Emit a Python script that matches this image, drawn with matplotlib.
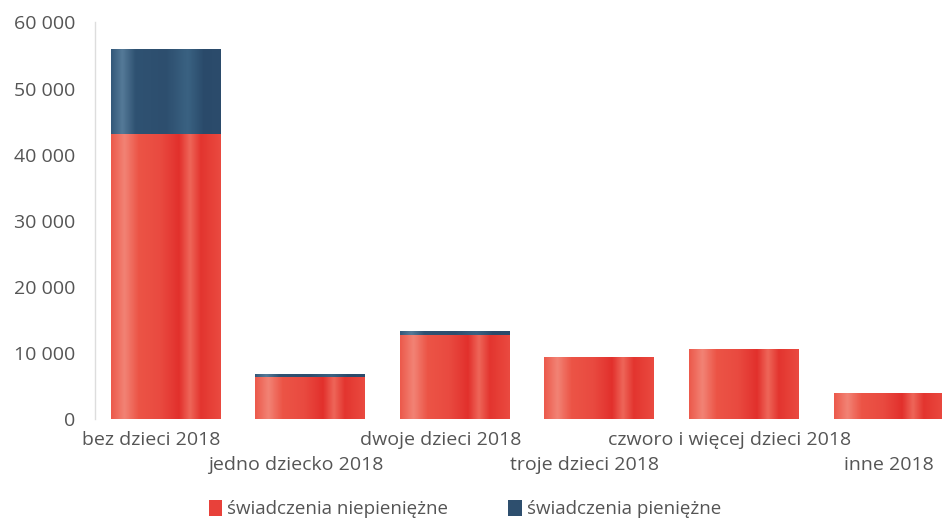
import matplotlib
matplotlib.use("Agg")
import matplotlib.pyplot as plt
import numpy as np
from matplotlib.colors import LinearSegmentedColormap
from matplotlib.transforms import blended_transform_factory, offset_copy
from matplotlib.patches import Patch

categories = ["bez dzieci 2018", "jedno dziecko 2018", "dwoje dzieci 2018",
              "troje dzieci 2018", "czworo i więcej dzieci 2018", "inne 2018"]
niepieniezne = [43200, 6350, 12700, 9400, 10600, 3950]
pieniezne = [12800, 450, 600, 0, 0, 0]
series_labels = ["świadczenia niepieniężne", "świadczenia pieniężne"]
yticks = [0, 10000, 20000, 30000, 40000, 50000, 60000]
ytick_labels = ["0", "10 000", "20 000", "30 000", "40 000", "50 000", "60 000"]

plt.rcParams['font.family'] = ['Open Sans', 'DejaVu Sans']
text_color = "#555555"

fig = plt.figure(figsize=(9.42, 5.23), dpi=100)
ax = fig.add_axes([0.1008, 0.1989, 0.8992, 0.957 - 0.1989])

red_cmap = LinearSegmentedColormap.from_list("r", [
    (0.0, "#ec5a4c"), (0.12, "#f28375"), (0.25, "#ec5446"), (0.45, "#e94a40"),
    (0.62, "#e2302c"), (0.72, "#ee6659"), (0.82, "#e3352f"), (1.0, "#ea4a40")])
blue_cmap = LinearSegmentedColormap.from_list("b", [
    (0.0, "#34597a"), (0.1, "#557a98"), (0.22, "#2f5272"), (0.5, "#2d4e6e"),
    (0.7, "#3a6282"), (0.85, "#2a4a6a"), (1.0, "#2c4c6c")])
grad = np.linspace(0, 1, 200).reshape(1, -1)

x = np.arange(len(categories))
width = 0.76
b1 = ax.bar(x, niepieniezne, width, color="#e8413a", label=series_labels[0], zorder=2)
b2 = ax.bar(x, pieniezne, width, bottom=niepieniezne, color="#2e4f6e",
            label=series_labels[1], zorder=2)

for bars, cmap in ((b1, red_cmap), (b2, blue_cmap)):
    for p in bars:
        if p.get_height() <= 0:
            continue
        x0, y0 = p.get_x(), p.get_y()
        im = ax.imshow(grad, cmap=cmap, aspect='auto', interpolation='bilinear',
                       extent=(x0, x0 + p.get_width(), y0, y0 + p.get_height()), zorder=3)
        im.set_clip_path(p)

ax.set_xlim(-0.49, 5.37)
ax.set_ylim(0, 60000)
ax.set_yticks(yticks)
ax.set_yticklabels(ytick_labels)
ax.tick_params(axis='y', length=0, pad=14, labelsize=14, labelcolor=text_color)
ax.set_xticks([])
for s in ("top", "right", "bottom"):
    ax.spines[s].set_visible(False)
ax.spines["left"].set_color("#dddddd")
ax.spines["left"].set_linewidth(1)

trans = blended_transform_factory(ax.transData, ax.transAxes)
for i, lab in enumerate(categories):
    dy = -21 if i % 2 == 0 else -46
    tr = offset_copy(trans, fig=fig, x=0, y=dy, units='dots')
    xi = x[i] - 0.1 if i < len(categories) - 1 else x[i]
    ax.text(xi, 0, lab, transform=tr, ha='center', va='center',
            fontsize=14, color=text_color, clip_on=False)

handles = [Patch(facecolor="#e8413a"), Patch(facecolor="#2e4f6e")]
leg = fig.legend(handles, series_labels, loc='center', bbox_to_anchor=(465 / 942, 1 - 509 / 523),
                 ncol=2, frameon=False, fontsize=13.5, handlelength=0.7, handleheight=1.0,
                 handletextpad=0.3, columnspacing=3.2)
for t in leg.get_texts():
    t.set_color(text_color)

fig.savefig("out.png", dpi=100)
